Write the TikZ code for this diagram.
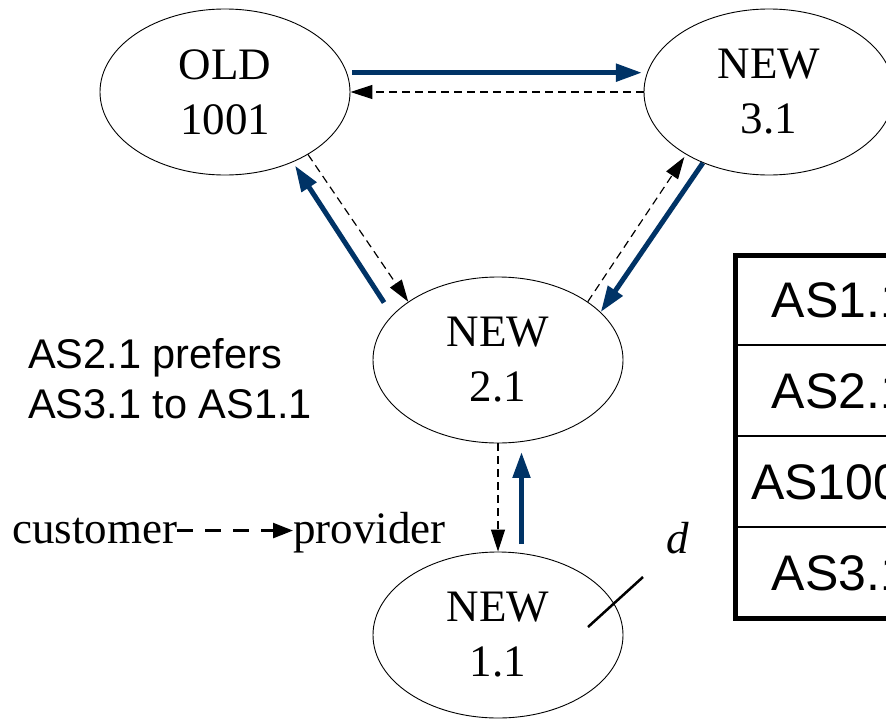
\documentclass[tikz,border=0pt]{standalone}
\usepackage{fontspec}
\setmainfont{Liberation Serif}
\newfontfamily\arialf{Liberation Sans}
\usetikzlibrary{arrows.meta,shapes.geometric}
\definecolor{navy}{RGB}{0,51,102}
\begin{document}
\begin{tikzpicture}[x=1pt,y=-1pt,
  asnode/.style={ellipse,draw,line width=0.9pt,minimum width=250pt,minimum height=166pt,
    inner sep=0pt,align=center,font=\fontsize{45}{55}\selectfont},
  bluearr/.style={draw=navy,line width=5pt,-{Triangle[length=26pt,width=17pt]}},
  dasharr/.style={draw=black,line width=1.2pt,dash pattern=on 8pt off 5pt,-{Triangle[length=22pt,width=14pt]}},
  legarr/.style={draw=black,line width=2.5pt,dash pattern=on 16pt off 12pt,-{Triangle[length=20pt,width=15pt]}},
  serifbig/.style={font=\fontsize{45}{55}\selectfont,inner sep=0pt},
  celltext/.style={font=\arialf\fontsize{50}{60}\selectfont,inner sep=0pt}
]
\clip (0,0) rectangle (886,718);
\fill[white] (0,0) rectangle (886,718);

% AS nodes
\node[asnode] (old) at (225,92) {OLD\\1001};
\node[asnode] (n3) at (769,92) {NEW\\3.1};
\node[asnode] (n2) at (498,360) {NEW\\2.1};
\node[asnode] (n1) at (498,635) {NEW\\1.1};

% connectors
\draw[bluearr,shorten <=5pt,shorten >=5pt] (old.9) -- (n3.171);
\draw[dasharr] (n3.west) -- (old.east);
\draw[dasharr] (old.323) -- (n2.147);
\draw[bluearr,shorten <=15pt,shorten >=4pt] (n2.157) -- (old.314);
\draw[dasharr,shorten >=3pt] (n2.33) -- (n3.217);
\draw[bluearr] (n3.227) -- (n2.25);
\draw[dasharr] (n2.south) -- (n1.north);
\draw[bluearr,shorten <=9pt,shorten >=10pt] (n1.74) -- (n2.286);

% preference note
\node[anchor=base west,align=left,inner sep=0pt,font=\arialf\fontsize{41.5}{50}\selectfont] (pref) at (28,418) {AS2.1 prefers\\AS3.1 to AS1.1};

% legend
\node[serifbig,anchor=base west] (cust) at (12,543) {customer};
\node[serifbig,anchor=base west] (prov) at (293,543) {provider};
\draw[legarr] (cust.east) -- (prov.west |- cust.east);

% failed link mark
\coordinate (cutA) at (588,627);
\coordinate (cutB) at (643,577);
\draw[line width=2.5pt] (cutA) -- (cutB);
\node[serifbig,font=\itshape\fontsize{45}{55}\selectfont] (dlab) at (678,538) {d};

% table
\draw[line width=5pt] (735,255) rectangle (945,618);
\draw[line width=2.2pt] (735,345) -- (945,345);
\draw[line width=2.2pt] (735,436) -- (945,436);
\draw[line width=2.2pt] (735,527) -- (945,527);
\node[celltext] (r1) at (840,300) {AS1.1};
\node[celltext] (r2) at (840,391) {AS2.1};
\node[celltext] (r3) at (840,482) {AS1001};
\node[celltext] (r4) at (840,573) {AS3.1};
\end{tikzpicture}
\end{document}
